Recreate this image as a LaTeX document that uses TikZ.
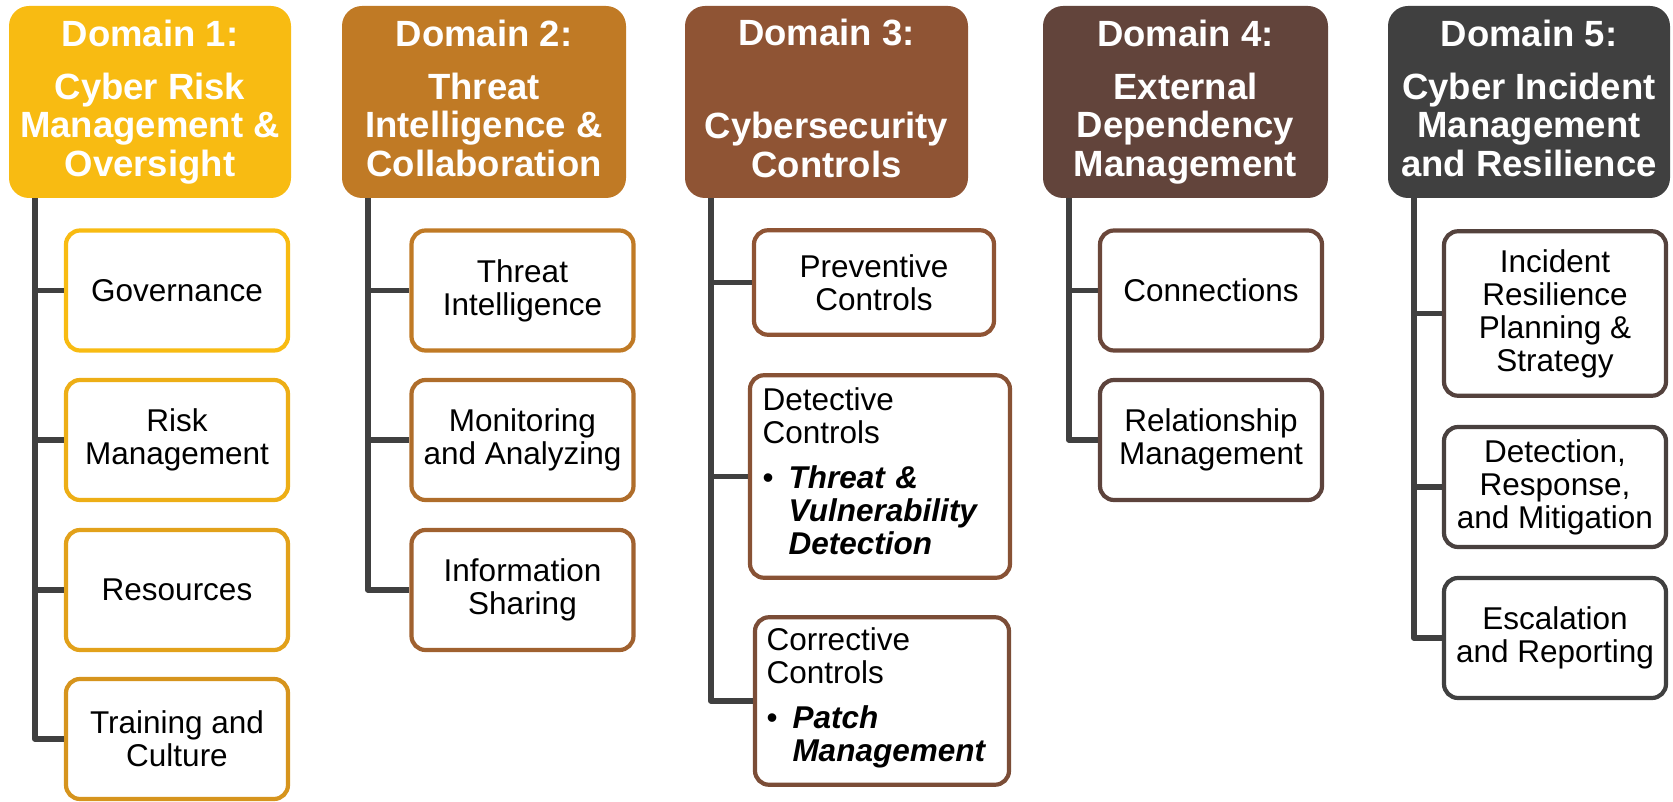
\documentclass[tikz,border=0pt]{standalone}
\usepackage{fontspec}
\setmainfont{Liberation Sans}
\definecolor{dOne}{HTML}{F8BB12}
\definecolor{dTwo}{HTML}{C07A25}
\definecolor{dThree}{HTML}{8F5434}
\definecolor{dFour}{HTML}{62443B}
\definecolor{dFive}{HTML}{404040}
\definecolor{trunk}{HTML}{404040}
\begin{document}
\begin{tikzpicture}[x=1pt,y=-1pt,
  hdr/.style={rounded corners=20pt, minimum width=#1, minimum height=192pt,
    inner sep=0pt, text=white, align=center,
    font=\fontsize{36.5}{38.5}\selectfont\bfseries},
  kid/.style={draw, fill=white, line width=4.2pt, rounded corners=14pt,
    inner sep=4pt, align=center, text=black,
    font=\fontsize{31.5}{33}\selectfont,
    minimum width=222pt, minimum height=120pt},
  listbox/.style={kid, align=left},
  conn/.style={draw=trunk, line width=5.5pt, line join=round}]
\useasboundingbox (0,0) rectangle (1673,802);

% domain headers
\node[hdr=282pt, fill=dOne] (h1) at (150,102)
  {Domain 1:\\[14.5pt]Cyber Risk\\Management \&\\Oversight};
\node[hdr=284pt, fill=dTwo] (h2) at (484,102)
  {Domain 2:\\[14.5pt]Threat\\Intelligence \&\\Collaboration\vphantom{g}};
\node[hdr=283pt, fill=dThree] (h3) at (826.5,102)
  {Domain 3:\\[54.5pt]Cybersecurity\\Controls\vphantom{g}};
\node[hdr=285pt, fill=dFour] (h4) at (1185.5,102)
  {Domain 4:\\[14.5pt]External\\Dependency\\Management};
\node[hdr=282pt, fill=dFive] (h5) at (1529,102)
  {Domain 5:\\[14.5pt]Cyber Incident\\Management\\and Resilience\vphantom{g}};

% domain 1
\node[kid, draw=dOne] (a1) at (177,290.5) {Governance};
\node[kid, draw=dOne!80!dTwo] (a2) at (177,440) {Risk\\Management};
\node[kid, draw=dOne!60!dTwo] (a3) at (177,590) {Resources};
\node[kid, draw=dOne!40!dTwo] (a4) at (177,739) {Training and\\Culture};

% domain 2
\node[kid, draw=dTwo] (b1) at (522.5,290.5) {Threat\\Intelligence};
\node[kid, draw=dTwo!65!dThree] (b2) at (522.5,440) {Monitoring\\and Analyzing};
\node[kid, draw=dTwo!35!dThree] (b3) at (522.5,590) {Information\\Sharing};

% domain 3
\node[kid, draw=dThree, minimum width=240pt, minimum height=104.5pt]
  (c1) at (874,282.5) {Preventive\\Controls};
\node[listbox, draw=dThree!85!dFour, minimum width=260pt, minimum height=202.5pt,
  inner xsep=12pt, text width=235pt] (c2) at (880,476.5)
  {Detective\\Controls\\[12pt]%
   \makebox[26pt][l]{•}\textbf{\textit{Threat \&}}\\
   \hspace*{26pt}\textbf{\textit{Vulnerability}}\\
   \hspace*{26pt}\textbf{\textit{Detection}}\par\vspace*{11.5pt}};
\node[listbox, draw=dThree!55!dFour, minimum width=254pt, minimum height=167.5pt,
  inner xsep=11pt, text width=231pt] (c3) at (882,701)
  {Corrective\\Controls\\[12pt]%
   \makebox[26pt][l]{•}\textbf{\textit{Patch}}\\
   \hspace*{26pt}\textbf{\textit{Management}}\par\vspace*{6pt}};

% domain 4
\node[kid, draw=dFour!80!dThree] (e1) at (1211,290.5) {Connections};
\node[kid, draw=dFour!85!dFive] (e2) at (1211,440) {Relationship\\Management};

% domain 5
\node[kid, draw=dFive!40!dFour, minimum height=164.5pt]
  (f1) at (1555,313.5) {Incident\\Resilience\\Planning \&\\Strategy};
\node[kid, draw=dFive!75!dFour] (f2) at (1555,487)
  {Detection,\\Response,\\and Mitigation};
\node[kid, draw=dFive] (f3) at (1555,638)
  {Escalation\\and Reporting};

% trunk lines from each header to its sub-areas
\foreach \h/\k in {h1/a1,h1/a2,h1/a3,h1/a4,h2/b1,h2/b2,h2/b3,
                   h3/c1,h3/c2,h3/c3,h4/e1,h4/e2,h5/f1,h5/f2,h5/f3}
  \draw[conn] ([xshift=26pt]\h.south west) |- (\k.west);
\end{tikzpicture}
\end{document}
